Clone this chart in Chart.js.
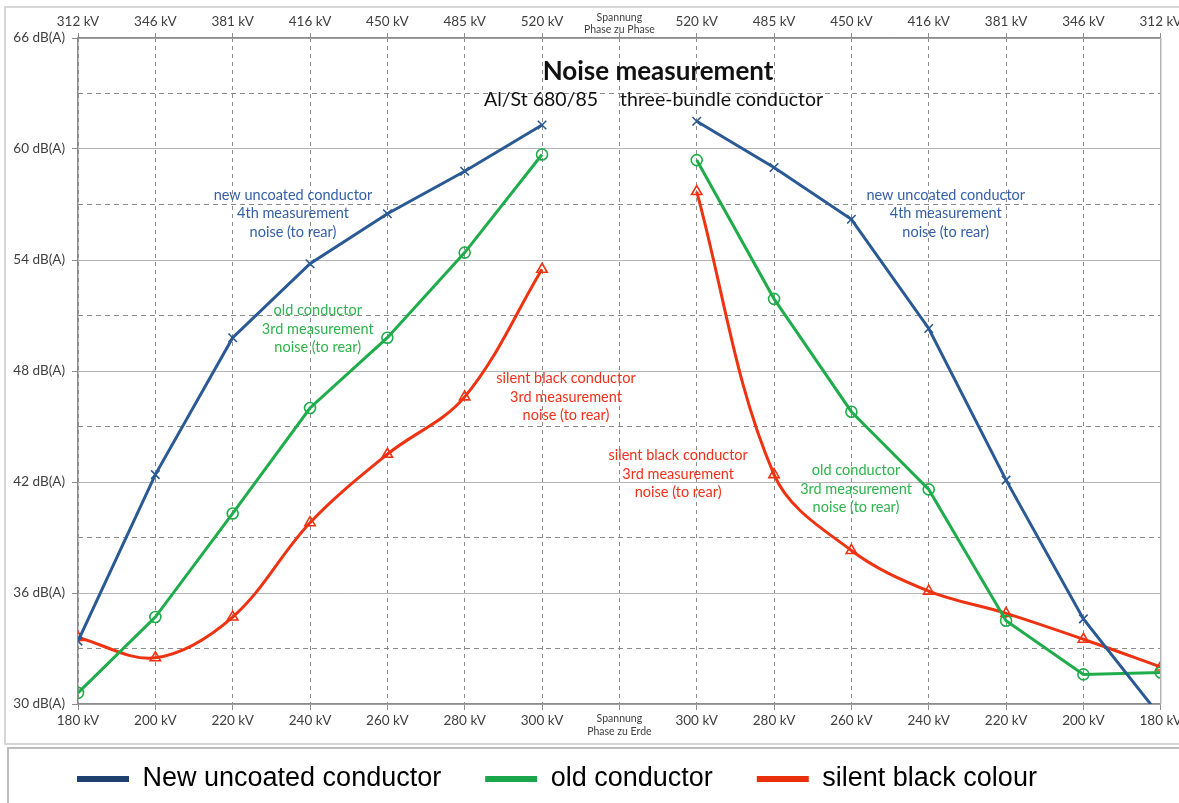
<!DOCTYPE html>
<html><head><meta charset="utf-8">
<script src="https://cdn.jsdelivr.net/npm/chart.js@4.4.1/dist/chart.umd.min.js"></script>
<style>html,body{margin:0;padding:0;background:#fff;overflow:hidden}#wrap{width:1185px;height:803px;position:relative}</style>
</head><body><div id="wrap"><canvas id="c"></canvas></div>
<script>
// ---------- data ----------
const categories = ['180 kV','200 kV','220 kV','240 kV','260 kV','280 kV','300 kV',['Spannung','Phase zu Erde'],'300 kV','280 kV','260 kV','240 kV','220 kV','200 kV','180 kV'];
const topLabels  = ['312 kV','346 kV','381 kV','416 kV','450 kV','485 kV','520 kV',['Spannung','Phase zu Phase'],'520 kV','485 kV','450 kV','416 kV','381 kV','346 kV','312 kV'];
const seriesNames = ['New uncoated conductor','old conductor','silent black colour'];
const newUncoated  = [33.4, 42.4, 49.8, 53.8, 56.5, 58.8, 61.3, null, 61.5, 59.0, 56.2, 50.3, 42.1, 34.6, 29.3];
const oldConductor = [30.6, 34.7, 40.3, 46.0, 49.8, 54.4, 59.7, null, 59.4, 51.9, 45.8, 41.6, 34.5, 31.6, 31.7];
const silentBlack  = [33.6, 32.5, 34.7, 39.8, 43.5, 46.6, 53.5, null, 57.7, 42.4, 38.3, 36.1, 34.9, 33.5, 32.0];
const yMin = 30, yMax = 66, yLabelStep = 6, yGridStep = 3;
const titleText = 'Noise measurement';
const subtitleLeft = 'Al/St 680/85';
const subtitleRight = 'three-bundle conductor';
const noteLinesBlue  = ['new uncoated conductor','4th measurement','noise (to rear)'];
const noteLinesGreen = ['old conductor','3rd measurement','noise (to rear)'];
const noteLinesRed   = ['silent black conductor','3rd measurement','noise (to rear)'];
// annotation anchors in data units (category index, dB value of middle line)
const notes = [
  {lines: noteLinesBlue,  color:'#3560a6', x:2.78,  y:56.5},
  {lines: noteLinesBlue,  color:'#3560a6', x:11.22, y:56.5},
  {lines: noteLinesGreen, color:'#2fb34c', x:3.10,  y:50.27},
  {lines: noteLinesGreen, color:'#2fb34c', x:10.06, y:41.62},
  {lines: noteLinesRed,   color:'#f0301a', x:6.31,  y:46.6},
  {lines: noteLinesRed,   color:'#f0301a', x:7.76,  y:42.43}
];

// ---------- styles ----------
const lineColors   = ['#2a5a94','#1fac4b','#ee3312'];
const legendColors = ['#1f416f','#1aa64a','#e8300e'];
const gapIndex = categories.findIndex(c => Array.isArray(c));
const tickFont = (c) => (c.index === gapIndex ? {family:'Lato', size:10.5, lineHeight:1.15} : {family:'Lato', size:13.5});
const tickFontTop = (c) => (c.index === gapIndex ? {family:'Lato', size:10.5, lineHeight:1.15} : {family:'Lato', size:13.5, lineHeight:2.2});
const legendStartX = 77, legendTextY = 779, legendHeight = 63;

const decor = {
  id:'decor',
  afterInit(chart){
    const L = chart.legend;
    if (L && !L._patched) {
      const orig = L.fit.bind(L);
      L.fit = function(){ orig(); this.height = legendHeight; };
      L._patched = true;
    }
  },
  afterLayout(chart){
    const L = chart.legend;
    if (L) {
      const P = L.options.labels.padding;
      const fs = L.options.labels.font.size;
      L.left = legendStartX - P;
      L.top = legendTextY - fs / 2 - P;
    }
  },
  beforeDraw(chart){
    const ctx = chart.ctx;
    ctx.save();
    ctx.fillStyle = '#fff'; ctx.fillRect(0,0,chart.width,chart.height);
    ctx.strokeStyle = '#d6d6d6'; ctx.lineWidth = 2;
    ctx.strokeRect(5,7,chart.width+20,737);
    ctx.strokeStyle = '#bdbdbd'; ctx.lineWidth = 2;
    ctx.strokeRect(8,748,chart.width+20,80);
    ctx.restore();
  },
  afterDatasetsDraw(chart){
    const ctx = chart.ctx, a = chart.chartArea;
    const xs = chart.scales.x, ys = chart.scales.y;
    ctx.save();
    // right edge
    ctx.strokeStyle = '#b4b4b4'; ctx.lineWidth = 1.5;
    ctx.beginPath(); ctx.moveTo(a.right, a.top); ctx.lineTo(a.right, a.bottom); ctx.stroke();
    // title
    const cx = xs.getPixelForValue(7.5);
    ctx.fillStyle = '#111';
    ctx.textAlign = 'center'; ctx.textBaseline = 'middle';
    ctx.font = 'bold 26px Lato';
    ctx.fillText(titleText, cx, 72);
    ctx.font = '19.5px Lato';
    ctx.textAlign = 'right';
    ctx.fillText(subtitleLeft, cx - 60, 100);
    ctx.textAlign = 'left';
    ctx.fillText(subtitleRight, cx - 38, 100);
    // notes
    ctx.font = '14.5px Lato';
    ctx.textAlign = 'center';
    notes.forEach(n => {
      const px = xs.getPixelForValue(n.x), py = ys.getPixelForValue(n.y);
      ctx.fillStyle = n.color;
      n.lines.forEach((t,i) => ctx.fillText(t, px, py + (i-1)*18.5));
    });
    ctx.restore();
  }
};

new Chart(document.getElementById('c'), {
  type:'line',
  data:{
    labels: categories,
    datasets:[
      {label:seriesNames[0], data:newUncoated, borderColor:lineColors[0], backgroundColor:lineColors[0], borderWidth:3,
       pointStyle:'crossRot', pointRadius:6, pointBorderWidth:1.6, pointBorderColor:lineColors[0], pointBackgroundColor:'rgba(255,255,255,0)', tension:0},
      {label:seriesNames[1], data:oldConductor, borderColor:lineColors[1], backgroundColor:lineColors[1], borderWidth:3,
       pointStyle:'circle', pointRadius:5.5, pointBorderWidth:1.6, pointBorderColor:lineColors[1], pointBackgroundColor:'rgba(255,255,255,0)', tension:0},
      {label:seriesNames[2], data:silentBlack, borderColor:lineColors[2], backgroundColor:lineColors[2], borderWidth:3,
       pointStyle:'triangle', pointRadius:6, pointBorderWidth:1.6, pointBorderColor:lineColors[2], pointBackgroundColor:'rgba(255,255,255,0)', tension:0.35}
    ]
  },
  options:{
    responsive:true, maintainAspectRatio:false, animation:false, devicePixelRatio:1,
    layout:{padding:{left:8, top:7, right:0, bottom:0}},
    plugins:{
      tooltip:{enabled:false},
      legend:{
        position:'bottom', align:'start',
        labels:{
          font:{family:'Liberation Sans', size:27}, color:'#000',
          boxWidth:52, boxHeight:6, padding:44,
          generateLabels(chart){
            const items = Chart.defaults.plugins.legend.labels.generateLabels(chart);
            return items.map((it,i)=>Object.assign(it,{fillStyle:legendColors[i], strokeStyle:legendColors[i], lineWidth:0}));
          }
        }
      }
    },
    scales:{
      x:{
        type:'category', position:'bottom', offset:false, min:0, max:categories.length-1,
        grid:{color:'#8c8c8c', lineWidth:1, tickLength:6, tickColor:'#8c8c8c', tickBorderDash:[]},
        border:{display:true, color:'#8c8c8c', width:1.5, dash:[4,4]},
        ticks:{font:tickFont, color:'#404040', padding:3, maxRotation:0, autoSkip:false},
        afterFit(s){ s.height = 36; }
      },
      x2:{
        type:'category', position:'top', offset:false, labels:topLabels, min:0, max:topLabels.length-1,
        grid:{drawOnChartArea:false, tickLength:5, color:'#8c8c8c'},
        border:{display:true, color:'#8c8c8c', width:1.5},
        ticks:{font:tickFontTop, color:'#404040', padding:-3, maxRotation:0, autoSkip:false},
        afterFit(s){ s.height = 31; }
      },
      y:{
        type:'linear', position:'left', min:yMin, max:yMax,
        ticks:{stepSize:yLabelStep, callback:v => v + ' dB(A)', font:{family:'Lato', size:13.5}, color:'#404040', padding:7},
        grid:{color:'#b4b4b4', lineWidth:1, tickLength:6, tickColor:'#8c8c8c'},
        border:{display:true, color:'#8c8c8c', width:1.5},
        afterFit(s){ s.width = 70; }
      },
      y2:{
        type:'linear', position:'left', min:yMin, max:yMax,
        ticks:{display:false, stepSize:yGridStep},
        grid:{drawTicks:false, lineWidth:1, color:c => (c.tick && c.tick.value % yLabelStep === 0) ? 'rgba(0,0,0,0)' : '#8c8c8c'},
        border:{display:false, dash:[5,4]},
        afterFit(s){ s.width = 0; }
      }
    }
  },
  plugins:[decor]
});
</script>
</body></html>
